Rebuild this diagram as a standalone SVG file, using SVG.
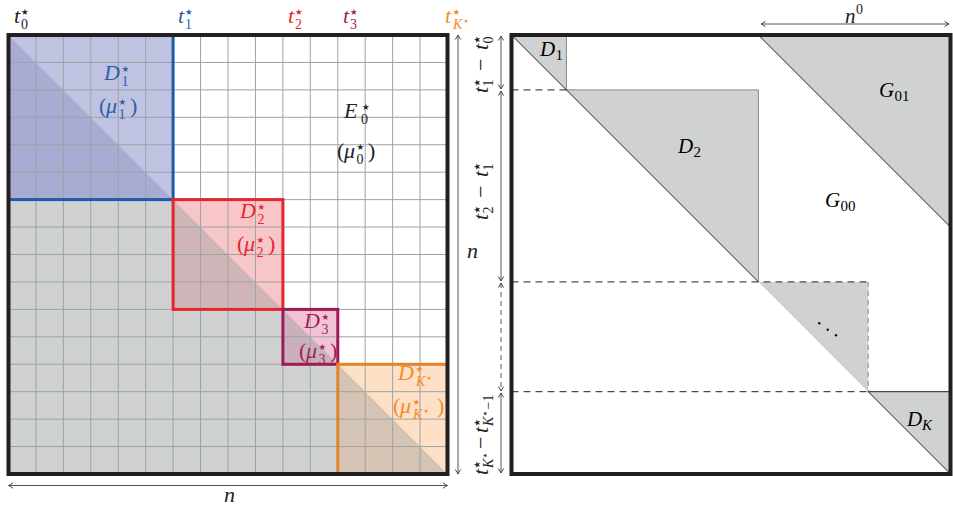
<svg xmlns="http://www.w3.org/2000/svg" width="953" height="507" viewBox="0 0 953 507">
<defs>
<marker id="ah" viewBox="-6 -4 7 8" refX="0" refY="0" markerWidth="7" markerHeight="8" markerUnits="userSpaceOnUse" orient="auto-start-reverse"><path d="M-4.5,-2.8 Q-1.5,-0.5 0,0 Q-1.5,0.5 -4.5,2.8" fill="none" stroke="#444" stroke-width="1"/></marker>
</defs>
<style>
.m{font-family:"Liberation Serif","DejaVu Serif",serif;font-style:italic;font-size:22px}
.m2{font-family:"Liberation Serif","DejaVu Serif",serif;font-style:italic;font-size:21px}
.r{font-family:"Liberation Serif","DejaVu Serif",serif;font-style:normal;font-size:22px}
.sb{font-family:"Liberation Serif","DejaVu Serif",serif;font-style:normal;font-size:14px}
.sb2{font-family:"Liberation Serif","DejaVu Serif",serif;font-style:normal;font-size:15px}
.si{font-family:"Liberation Serif","DejaVu Serif",serif;font-style:italic;font-size:14px}
.si2{font-family:"Liberation Serif","DejaVu Serif",serif;font-style:italic;font-size:15px}
.st{font-family:"DejaVu Sans",sans-serif;font-size:8.5px}
.st2{font-family:"DejaVu Sans",sans-serif;font-size:5.5px}
.grid{stroke:#9da3a3;stroke-width:1;fill:none}
.arr{stroke:#555;stroke-width:1;fill:none;marker-start:url(#ah);marker-end:url(#ah)}
.tri{fill:#d0d2d2}
.blue{fill:#2a5fae}.red{fill:#e5262e}.pur{fill:#a31e5e}.org{fill:#f38b2d}.blk{fill:#222}
.box{fill:none;stroke:#231f20;stroke-width:4}
.dash{stroke:#222;stroke-width:1;stroke-dasharray:7,5;fill:none}
</style>
<rect width="953" height="507" fill="#fff"/>

<!-- LEFT PANEL -->
<g id="left-panel">
<polygon class="tri" points="8.5,35 8.5,474 447.5,474"/>
<g id="D1star">
<polygon points="8.5,35 173.1,35 173.1,199.6" fill="#c0c2e1"/>
<polygon points="8.5,35 8.5,199.6 173.1,199.6" fill="#a9abd3"/>
</g>
<g id="D2star">
<polygon points="173.1,199.6 282.9,199.6 282.9,309.4" fill="#f8c5c9"/>
<polygon points="173.1,199.6 173.1,309.4 282.9,309.4" fill="#d0b5b8"/>
</g>
<g id="D3star">
<polygon points="282.9,309.4 337.8,309.4 337.8,364.3" fill="#f1c3d5"/>
<polygon points="282.9,309.4 282.9,364.3 337.8,364.3" fill="#c9b0bb"/>
</g>
<g id="DKstar">
<polygon points="337.8,364.3 447.5,364.3 447.5,474" fill="#fde0c5"/>
<polygon points="337.8,364.3 337.8,474 447.5,474" fill="#d5c4b4"/>
</g>
<path class="grid" d="M35.94 35V474M63.38 35V474M90.81 35V474M118.25 35V474M145.69 35V474M173.13 35V474M200.56 35V474M228 35V474M255.44 35V474M282.88 35V474M310.31 35V474M337.75 35V474M365.19 35V474M392.63 35V474M420.06 35V474M8.5 62.44H447.5M8.5 89.88H447.5M8.5 117.31H447.5M8.5 144.75H447.5M8.5 172.19H447.5M8.5 199.63H447.5M8.5 227.06H447.5M8.5 254.5H447.5M8.5 281.94H447.5M8.5 309.38H447.5M8.5 336.81H447.5M8.5 364.25H447.5M8.5 391.69H447.5M8.5 419.13H447.5M8.5 446.56H447.5"/>
<rect x="8.5" y="35" width="164.6" height="164.6" fill="none" stroke="#1e5aa8" stroke-width="3"/>
<rect x="173.1" y="199.6" width="109.8" height="109.8" fill="none" stroke="#e4252d" stroke-width="3"/>
<rect x="282.9" y="309.4" width="54.9" height="54.9" fill="none" stroke="#9d1c58" stroke-width="3"/>
<rect x="337.8" y="364.3" width="109.7" height="109.7" fill="none" stroke="#e3832d" stroke-width="3"/>
<rect class="box" x="8.5" y="35" width="439" height="439"/>

<!-- top labels -->
<g id="t0" class="blk"><text class="m" x="14" y="23">t</text><text class="st" x="21" y="14.5">★</text><text class="sb" x="21" y="29">0</text></g>
<g id="t1" class="blue"><text class="m" x="178" y="23">t</text><text class="st" x="185" y="14.5">★</text><text class="sb" x="185" y="29">1</text></g>
<g id="t2" class="red"><text class="m" x="288" y="23">t</text><text class="st" x="295" y="14.5">★</text><text class="sb" x="295" y="29">2</text></g>
<g id="t3" class="pur"><text class="m" x="343" y="23">t</text><text class="st" x="350" y="14.5">★</text><text class="sb" x="350" y="29">3</text></g>
<g id="tK" class="org"><text class="m" x="445" y="23">t</text><text class="st" x="452.5" y="14.5">★</text><text class="si" x="453" y="29">K</text><text class="st2" x="463.5" y="22.5">★</text></g>

<!-- block labels -->
<g id="lblD1" class="blue"><text class="m" x="104" y="80">D</text><text class="st" x="121.5" y="71.5">★</text><text class="sb" x="121.5" y="86">1</text>
<text class="r" x="99" y="113">(</text><text class="m" x="106" y="113">μ</text><text class="st" x="118.5" y="104.5">★</text><text class="sb" x="118.5" y="119">1</text><text class="r" x="130" y="113">)</text></g>
<g id="lblE0" class="blk"><text class="m" x="344" y="118">E</text><text class="st" x="362" y="109.5">★</text><text class="sb" x="361" y="124">0</text>
<text class="r" x="337" y="158">(</text><text class="m" x="344" y="158">μ</text><text class="st" x="356.5" y="149.5">★</text><text class="sb" x="356.5" y="164">0</text><text class="r" x="368" y="158">)</text></g>
<g id="lblD2" class="red"><text class="m" x="240" y="218">D</text><text class="st" x="257.5" y="209.5">★</text><text class="sb" x="257.5" y="224">2</text>
<text class="r" x="237" y="251">(</text><text class="m" x="244" y="251">μ</text><text class="st" x="256.5" y="242.5">★</text><text class="sb" x="256.5" y="257">2</text><text class="r" x="268" y="251">)</text></g>
<g id="lblD3" class="pur"><text class="m" x="304" y="328">D</text><text class="st" x="321.5" y="319.5">★</text><text class="sb" x="321.5" y="334">3</text>
<text class="r" x="299" y="358">(</text><text class="m" x="306" y="358">μ</text><text class="st" x="318.5" y="349.5">★</text><text class="sb" x="318.5" y="364">3</text><text class="r" x="330" y="358">)</text></g>
<g id="lblDK" class="org"><text class="m" x="398" y="380">D</text><text class="st" x="415.5" y="371.5">★</text><text class="si" x="416" y="386">K</text><text class="st2" x="426.5" y="380">★</text>
<text class="r" x="393" y="413">(</text><text class="m" x="400" y="413">μ</text><text class="st" x="412.5" y="404.5">★</text><text class="si" x="413" y="419">K</text><text class="st2" x="423.5" y="413">★</text><text class="r" x="437" y="413">)</text></g>
</g>

<!-- RIGHT PANEL -->
<g id="right-panel">
<g id="G01"><polygon class="tri" points="758.4,35 950.5,35 950.5,227.1"/><text class="m2" x="879" y="97">G</text><text class="sb2" x="894.5" y="101">01</text></g>
<g id="G00"><text class="m2" x="825" y="207">G</text><text class="sb2" x="840.5" y="211">00</text></g>
<g id="D1"><polygon class="tri" points="511.5,35 566.4,35 566.4,89.9"/><path d="M566.4 35V89.9" stroke="#888" stroke-width="1"/><text class="m2" x="540" y="56">D</text><text class="sb2" x="555.5" y="60">1</text></g>
<g id="D2"><polygon class="tri" points="566.4,89.9 758.4,89.9 758.4,281.9"/><path d="M566.4 89.9H758.4V281.9" stroke="#888" stroke-width="1" fill="none"/><text class="m2" x="678" y="153">D</text><text class="sb2" x="693.5" y="157">2</text></g>
<g id="Dmid"><polygon class="tri" points="758.4,281.9 868.2,281.9 868.2,391.7"/><path d="M868.2 281.9V391.7" stroke="#888" stroke-width="1" stroke-dasharray="5,4" fill="none"/>
<circle cx="819.3" cy="323.3" r="1.2" fill="#111"/><circle cx="827.7" cy="329.7" r="1.2" fill="#111"/><circle cx="836" cy="335.3" r="1.2" fill="#111"/></g>
<g id="DK"><polygon class="tri" points="868.2,391.7 950.5,391.7 950.5,474"/><text class="m2" x="907" y="426">D</text><text class="si2" x="922" y="430">K</text></g>
<path d="M511.5 35L758.4 281.9M868.2 391.7L950.5 474M758.4 35L950.5 227.1" stroke="#222" stroke-width="1" fill="none"/>
<path class="dash" d="M511.5 89.9H566.4M511.5 281.9H868.2M511.5 391.7H868.2"/>
<path d="M868.2 391.7H950.5" stroke="#222" stroke-width="1"/>
<rect class="box" x="511.5" y="35" width="439" height="439"/>
<g id="n0" class="blk"><text class="m2" x="845" y="23">n</text><text class="sb" x="856" y="14">0</text></g>
<g id="lab1" class="blk" transform="translate(488,62) rotate(-90)"><text class="m" x="-31" y="0">t</text><text class="st" x="-24.5" y="-8.5">★</text><text class="sb" x="-24.5" y="5">1</text><text class="r" x="-9" y="0">−</text><text class="m" x="12" y="0">t</text><text class="st" x="18.5" y="-8.5">★</text><text class="sb" x="18.5" y="5">0</text></g>
<g id="lab2" class="blk" transform="translate(488,191) rotate(-90)"><text class="m" x="-29" y="0">t</text><text class="st" x="-22.5" y="-8.5">★</text><text class="sb" x="-22.5" y="5">2</text><text class="r" x="-7" y="0">−</text><text class="m" x="14" y="0">t</text><text class="st" x="20.5" y="-8.5">★</text><text class="sb" x="20.5" y="5">1</text></g>
<g id="lab3" class="blk" transform="translate(488,428) rotate(-90)"><text class="m" x="-47" y="0">t</text><text class="st" x="-40.5" y="-8.5">★</text><text class="si" x="-40" y="5">K</text><text class="st2" x="-30" y="-1">★</text><text class="r" x="-21" y="0">−</text><text class="m" x="-5" y="0">t</text><text class="st" x="1.5" y="-8.5">★</text><text class="si" x="2" y="5">K</text><text class="st2" x="12" y="-1">★</text><text class="sb" x="18.5" y="5">−1</text></g>
</g>

<!-- connectors -->
<g id="connectors">
<path class="arr" d="M8.5 485.5H447.5"/>
<path class="arr" d="M458 35V474"/>
<path class="arr" d="M761 24H949"/>
<path class="arr" d="M501 36V89"/>
<path class="arr" d="M501 91V281"/>
<path class="arr" d="M501 283V391" stroke-dasharray="5,4"/>
<path class="arr" d="M501 393V473"/>
</g>
<text class="m blk" x="224" y="502">n</text>
<text class="m blk" x="467" y="258">n</text>
</svg>
